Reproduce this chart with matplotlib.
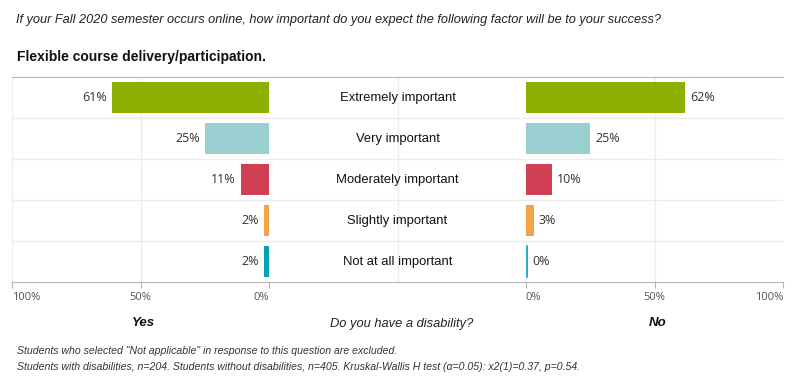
import matplotlib
matplotlib.use("Agg")
import matplotlib.pyplot as plt

categories = ["Extremely important", "Very important", "Moderately important",
              "Slightly important", "Not at all important"]
yes_values = [61, 25, 11, 2, 2]
no_values = [62, 25, 10, 3, 0]
colors = ["#8DB000", "#99CFD1", "#D13F55", "#F3A447", "#00A3B4"]
tick_vals = [100, 50, 0]
tick_labels = ["100%", "50%", "0%"]

plt.rcParams['font.family'] = ['Liberation Sans', 'DejaVu Sans']
num_font = ['Open Sans', 'DejaVu Sans']

fig = plt.figure(figsize=(8.01, 3.85), dpi=100)
W, H = 801, 385

def fx(px): return px / W
def fy(py): return 1 - py / H

top, bot = 77, 282
ax_l = fig.add_axes([fx(12), fy(bot), fx(257), (bot - top) / H])
ax_m = fig.add_axes([fx(269), fy(bot), fx(257), (bot - top) / H])
ax_r = fig.add_axes([fx(526), fy(bot), fx(257), (bot - top) / H])

y = list(range(len(categories)))
grid_c = "#EDEDED"
spine_c = "#B5B5B5"

for ax in (ax_l, ax_m, ax_r):
    ax.set_ylim(len(categories) - 0.5, -0.5)
    for s in ax.spines.values():
        s.set_visible(False)
    ax.spines['top'].set_visible(True)
    ax.spines['top'].set_color(spine_c)
    ax.spines['bottom'].set_visible(True)
    ax.spines['bottom'].set_color(spine_c)
    ax.set_yticks([])
    for k in range(len(categories) - 1):
        ax.axhline(k + 0.5, color=grid_c, lw=1, zorder=0)

# left panel
ax_l.set_xlim(100, 0)
ax_l.barh(y, yes_values, height=0.75, color=colors, zorder=2)
ax_l.axvline(50, color=grid_c, lw=1, zorder=0)
ax_l.axvline(100, color=grid_c, lw=1.5, zorder=0)
for yi, v in zip(y, yes_values):
    ax_l.text(v + 2, yi, f"{v}%", ha="right", va="center", fontsize=9,
              color="#333333", family=num_font)

# right panel
ax_r.set_xlim(0, 100)
ax_r.barh(y, no_values, height=0.75, color=colors, zorder=2)
ax_r.axvline(50, color=grid_c, lw=1, zorder=0)
for yi, v in zip(y, no_values):
    ax_r.text(max(v, 0.6) + 2, yi, f"{v}%", ha="left", va="center", fontsize=9,
              color="#333333", family=num_font)
# show the 0% bar as a thin line
ax_r.plot([0.4, 0.4], [4 - 0.375, 4 + 0.375], color=colors[4], lw=1.2, zorder=3)

for ax in (ax_l, ax_r):
    ax.set_xticks(tick_vals)
    ax.set_xticklabels(tick_labels, family=num_font)
    ax.tick_params(axis='x', length=4, width=0.8, color=spine_c, labelsize=8,
                   labelcolor="#555555", pad=3)
ll = ax_l.get_xticklabels()
ll[0].set_ha("left")
ll[2].set_ha("right")
rl = ax_r.get_xticklabels()
rl[0].set_ha("right")
rl[2].set_ha("left")

# middle panel
ax_m.set_xlim(0, 1)
ax_m.set_xticks([])
ax_m.axvline(0.5, color=grid_c, lw=1, zorder=0)
for yi, c in zip(y, categories):
    ax_m.text(0.5, yi + 0.02, c, ha="center", va="center", fontsize=9.4, color="#111111")

# titles
fig.text(fx(16), fy(20), "If your Fall 2020 semester occurs online, how important do you expect the following factor will be to your success?",
         ha="left", va="center", fontsize=9.2, style="italic", color="#222222")
fig.text(fx(17), fy(57), "Flexible course delivery/participation.", ha="left", va="center",
         fontsize=10, fontweight="bold", color="#111111")

# group labels
fig.text(fx(143), fy(323), "Yes", ha="center", va="center", fontsize=9.5,
         fontweight="bold", style="italic", color="#111111")
fig.text(fx(402), fy(324), "Do you have a disability?", ha="center", va="center",
         fontsize=9.3, style="italic", color="#222222")
fig.text(fx(658), fy(323), "No", ha="center", va="center", fontsize=9.5,
         fontweight="bold", style="italic", color="#111111")

# footnotes
fig.text(fx(17), fy(351), "Students who selected \"Not applicable\" in response to this question are excluded.",
         ha="left", va="center", fontsize=7.6, style="italic", color="#333333")
fig.text(fx(17), fy(367), "Students with disabilities, n=204. Students without disabilities, n=405. Kruskal-Wallis H test (\u03b1=0.05): x2(1)=0.37, p=0.54.",
         ha="left", va="center", fontsize=7.6, style="italic", color="#333333")

fig.savefig("out.png", dpi=100)
